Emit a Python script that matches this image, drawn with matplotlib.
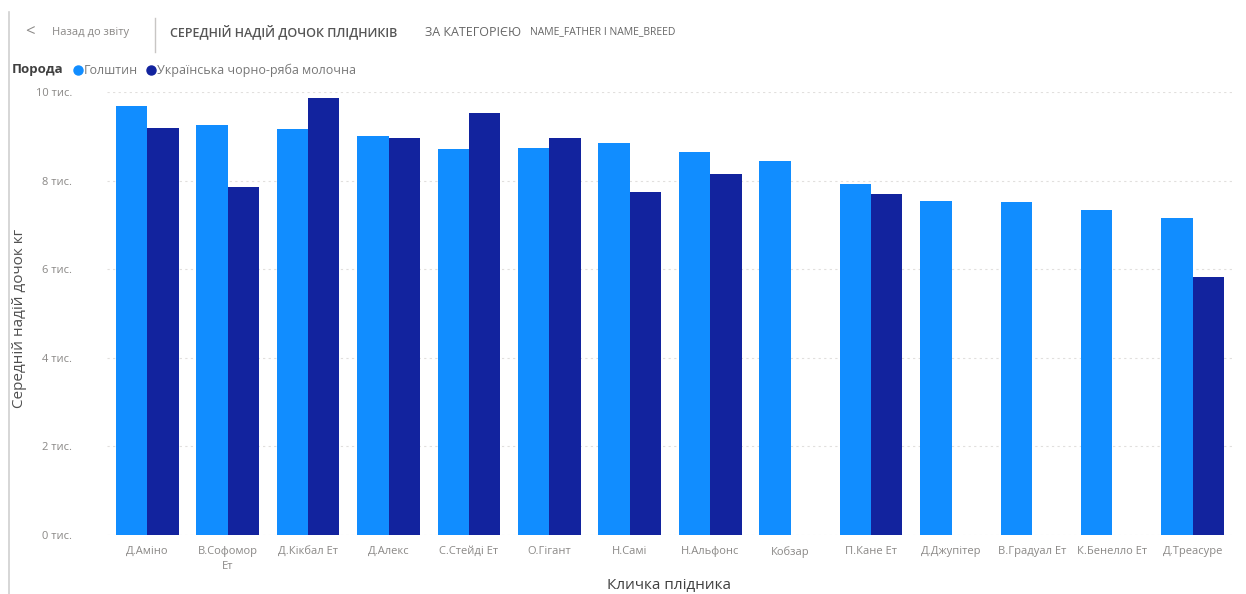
import matplotlib
matplotlib.use("Agg")
import matplotlib.pyplot as plt
from matplotlib.lines import Line2D
import numpy as np

plt.rcParams['font.family'] = ['Open Sans', 'DejaVu Sans']

# Sire names and mean daughter milk yield (kg) by breed
sires = ["Д.Аміно", "В.Софомор\nЕт", "Д.Кікбал Ет", "Д.Алекс", "С.Стейді Ет",
         "О.Гігант", "Н.Самі", "Н.Альфонс", "Кобзар", "П.Кане Ет",
         "Д.Джупітер", "В.Градуал Ет", "К.Бенелло Ет", "Д.Треасуре"]
holstein = [9684, 9255, 9165, 9007, 8713, 8729, 8842, 8652, 8442, 7916,
            7540, 7524, 7336, 7163]
ukr_black_white = [9194, 7862, 9858, 8955, 9533, 8968, 7749, 8142, np.nan, 7691,
                   np.nan, np.nan, np.nan, 5817]
yticks = [0, 2000, 4000, 6000, 8000, 10000]
ytick_labels = ["0 тис.", "2 тис.", "4 тис.", "6 тис.", "8 тис.", "10 тис."]

series_names = ["Голштин", "Українська чорно-ряба молочна"]
c_light = "#118DFF"
c_dark = "#12239E"
txt = "#8a8886"

fig = plt.figure(figsize=(12.46, 5.94), dpi=100)
W, H = 1246, 594
ax = fig.add_axes([107 / W, (H - 535) / H, (1233 - 107) / W, (535 - 92) / H])

x = np.arange(len(sires))
bw = 0.39
ax.bar(x - bw / 2, holstein, width=bw, color=c_light, zorder=2)
ax.bar(x + bw / 2, ukr_black_white, width=bw, color=c_dark, zorder=2)

ax.set_xlim(-0.5, len(sires) - 0.5)
ax.set_ylim(0, 10000)
ax.set_yticks(yticks)
ax.set_yticklabels(ytick_labels, fontsize=8, color=txt)
ax.set_xticks(x)
ax.set_xticklabels(sires, fontsize=8, color=txt, linespacing=1.5)
ax.tick_params(axis='both', length=0)
ax.tick_params(axis='x', pad=8)
ax.tick_params(axis='y', pad=25)
for yt in yticks:
    ax.axhline(yt, color="#e1dfdd", lw=0.8, ls=(0, (2, 3)), zorder=0)
for s in ax.spines.values():
    s.set_visible(False)

fig.text(669 / W, 1 - 585 / H, "Кличка плідника", fontsize=11, color="#404040",
         ha='center', va='center')
fig.text(20 / W, 1 - 318 / H, "Середній надій дочок кг", rotation=90,
         fontsize=11, color="#505050", ha='center', va='center')

# Page border on the left
fig.add_artist(Line2D([9 / W, 9 / W], [0, 1 - 12 / H], color="#d0d0d0", lw=1.2))

# Header row
fig.text(25 / W, 1 - 32 / H, "<", fontsize=12, color="#8a8886", ha='left', va='center')
fig.text(52 / W, 1 - 33 / H, "Назад до звіту", fontsize=8, color="#8a8886",
         ha='left', va='center')
fig.add_artist(Line2D([155 / W, 155 / W], [1 - 18 / H, 1 - 52 / H], color="#c8c6c4", lw=1))
fig.text(170 / W, 1 - 32 / H, "СЕРЕДНІЙ НАДІЙ ДОЧОК ПЛІДНИКІВ", fontsize=9,
         color="#555555", ha='left', va='center', fontweight='semibold')
fig.text(425 / W, 1 - 32 / H, "ЗА КАТЕГОРІЄЮ", fontsize=9, color="#666666",
         ha='left', va='center')
fig.text(530 / W, 1 - 32 / H, "NAME_FATHER І NAME_BREED", fontsize=7.5,
         color="#666666", ha='left', va='center')

# Legend row
ly = 1 - 70 / H
fig.text(12 / W, ly, "Порода", fontsize=9.5, color="#404040", ha='left', va='center',
         fontweight='bold')
fig.add_artist(Line2D([78 / W], [ly], marker='o', color=c_light, markersize=6.5, lw=0))
fig.text(84 / W, ly, series_names[0], fontsize=9, color="#777777", ha='left', va='center')
fig.add_artist(Line2D([151 / W], [ly], marker='o', color=c_dark, markersize=6.5, lw=0))
fig.text(157 / W, ly, series_names[1], fontsize=9, color="#777777", ha='left', va='center')

fig.savefig("out.png", dpi=100)
